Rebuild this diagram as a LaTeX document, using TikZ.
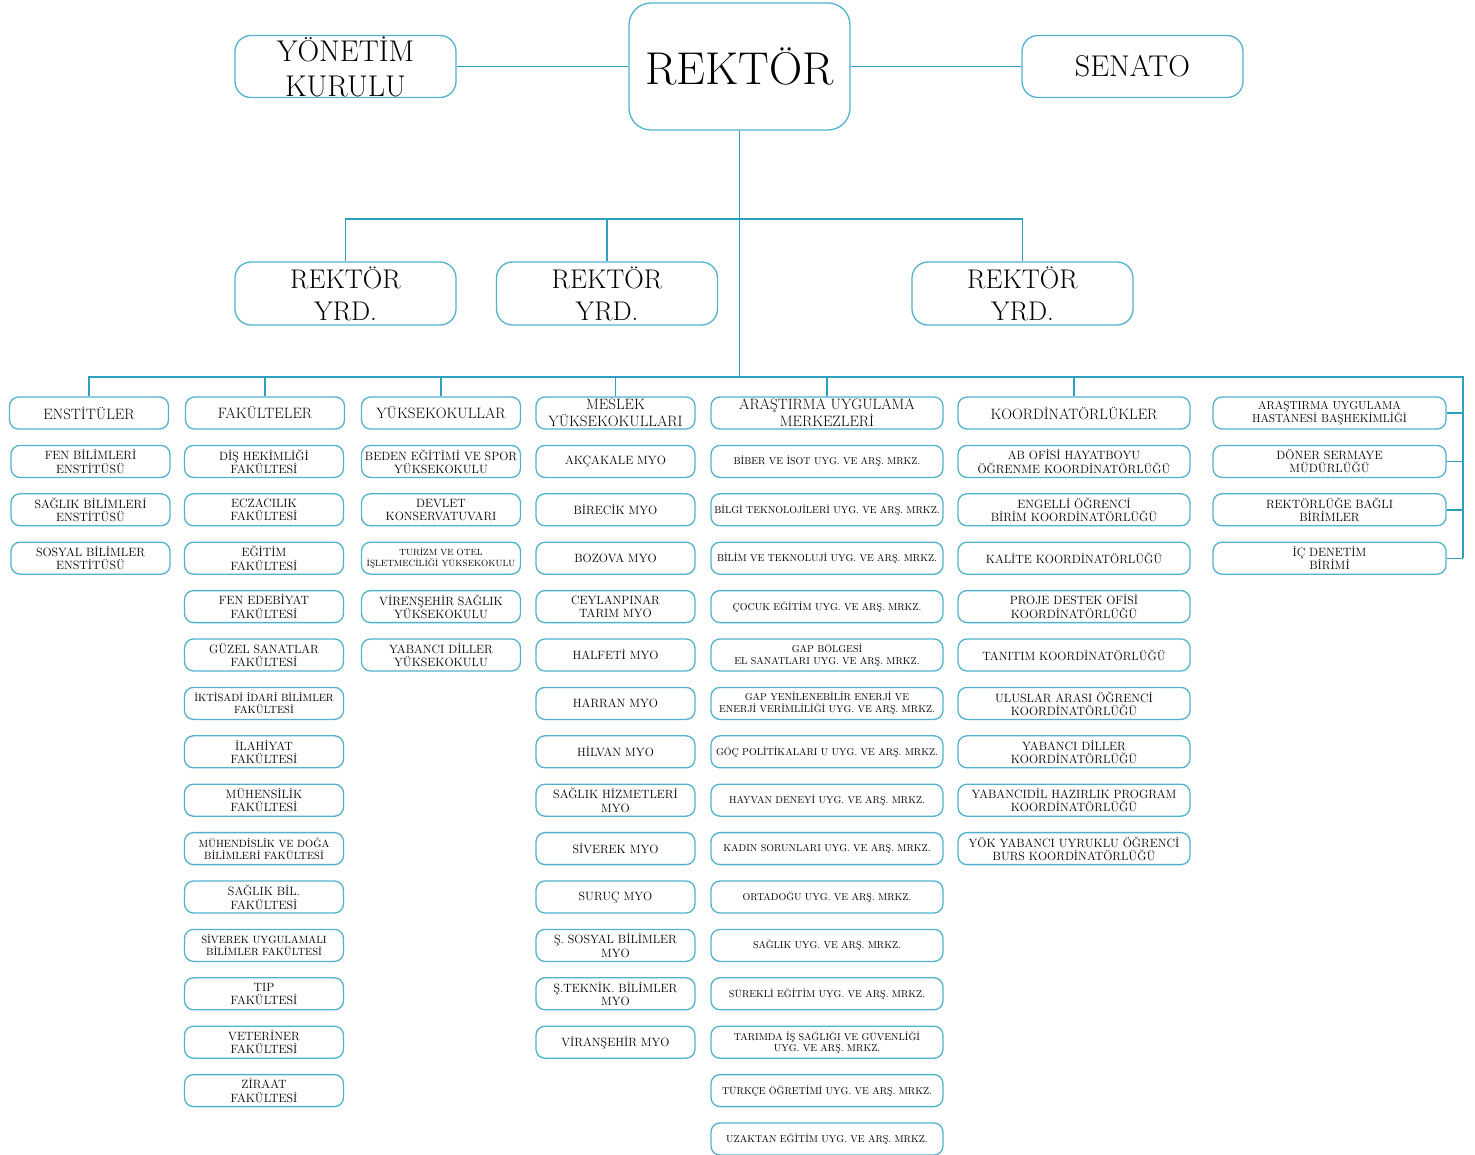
\documentclass[tikz,border=0pt]{standalone}
\usepackage{fontspec}

\definecolor{orgline}{RGB}{44,160,190}
\definecolor{orgbox}{RGB}{82,178,206}
\newcommand{\orgfont}[2]{\fontsize{#1}{#2}\selectfont}

\tikzset{
  unit/.style={draw=orgbox, line width=1.3pt, rounded corners=9pt, fill=white,
    align=center, inner sep=0pt, minimum height=32pt, minimum width=159pt,
    font=\orgfont{12}{13.5}},
  smallunit/.style={unit, font=\orgfont{10.5}{12}},
  wideunit/.style={unit, minimum width=232pt},
  armunit/.style={wideunit, font=\orgfont{10}{11.5}},
  head/.style={unit, font=\orgfont{15}{17}},
  top/.style={unit, rounded corners=16pt, minimum width=221pt, minimum height=62pt},
  link/.style={draw=orgline, line width=1.4pt},
}

\begin{document}
\begin{tikzpicture}[x=1pt,y=-1pt]
\useasboundingbox (0,0) rectangle (1475,1155);

% top level
\node[top, minimum height=127pt, rounded corners=22pt, font=\orgfont{46}{50}] (rektor) at (739.5,66.5) {REKTÖR};
\node[top, label={[font=\orgfont{30}{35}, align=center]center:YÖNETİM\\KURULU}] (yk) at (345.5,66.5) {};
\node[top, font=\orgfont{30}{34}] (senato) at (1132.5,66.5) {SENATO};

\node[top, minimum height=63pt, label={[font=\orgfont{27}{32}, align=center]center:REKTÖR\\YRD.}] (yrda) at (345.5,293.5) {};
\node[top, minimum height=63pt, label={[font=\orgfont{27}{32}, align=center]center:REKTÖR\\YRD.}] (yrdb) at (607,293.5) {};
\node[top, minimum height=63pt, label={[font=\orgfont{27}{32}, align=center]center:REKTÖR\\YRD.}] (yrdc) at (1022.5,293.5) {};

% unit headers
\node[head] (ens) at (89,413) {ENSTİTÜLER};
\node[head] (fak) at (265,413) {FAKÜLTELER};
\node[head] (yo) at (441,413) {YÜKSEKOKULLAR};
\node[head] (myo) at (615.5,413) {MESLEK\\YÜKSEKOKULLARI};
\node[head, minimum width=232pt] (arm) at (827,413) {ARAŞTIRMA UYGULAMA\\MERKEZLERİ};
\node[head, minimum width=232pt] (koo) at (1074,413) {KOORDİNATÖRLÜKLER};

% units, row by row
\foreach \r/\t in {1/{FEN BİLİMLERİ\\ENSTİTÜSÜ}, 2/{SAĞLIK BİLİMLERİ\\ENSTİTÜSÜ},
    3/{SOSYAL BİLİMLER\\ENSTİTÜSÜ}}
  \node[unit] (ens\r) at (90.5,{413+48.4*\r}) {\t};

\foreach \r/\t in {1/{DİŞ HEKİMLİĞİ\\FAKÜLTESİ}, 2/{ECZACILIK\\FAKÜLTESİ},
    3/{EĞİTİM\\FAKÜLTESİ}, 4/{FEN EDEBİYAT\\FAKÜLTESİ}, 5/{GÜZEL SANATLAR\\FAKÜLTESİ},
    7/{İLAHİYAT\\FAKÜLTESİ}, 8/{MÜHENSİLİK\\FAKÜLTESİ}, 10/{SAĞLIK BİL.\\FAKÜLTESİ},
    12/{TIP\\FAKÜLTESİ}, 13/{VETERİNER\\FAKÜLTESİ}, 14/{ZİRAAT\\FAKÜLTESİ}}
  \node[unit] (fak\r) at (264,{413+48.4*\r}) {\t};
\node[smallunit] (fak6) at (264,{413+48.4*6}) {İKTİSADİ İDARİ BİLİMLER\\FAKÜLTESİ};
\node[smallunit] (fak9) at (264,{413+48.4*9}) {MÜHENDİSLİK VE DOĞA\\BİLİMLERİ FAKÜLTESİ};
\node[smallunit] (fak11) at (264,{413+48.4*11}) {SİVEREK UYGULAMALI\\BİLİMLER FAKÜLTESİ};

\foreach \r/\t in {1/{BEDEN EĞİTİMİ VE SPOR\\YÜKSEKOKULU}, 2/{DEVLET\\KONSERVATUVARI},
    4/{VİRENŞEHİR SAĞLIK\\YÜKSEKOKULU}, 5/{YABANCI DİLLER\\YÜKSEKOKULU}}
  \node[unit] (yo\r) at (441,{413+48.4*\r}) {\t};
\node[unit, font=\orgfont{9}{10.5}] (yo3) at (441,{413+48.4*3}) {TURİZM VE OTEL\\İŞLETMECİLİĞİ YÜKSEKOKULU};

\foreach \t [count=\r] in {{AKÇAKALE MYO}, {BİRECİK MYO}, {BOZOVA MYO},
    {CEYLANPINAR\\TARIM MYO}, {HALFETİ MYO}, {HARRAN MYO}, {HİLVAN MYO},
    {SAĞLIK HİZMETLERİ\\MYO}, {SİVEREK MYO}, {SURUÇ MYO}, {Ş. SOSYAL BİLİMLER\\MYO},
    {Ş.TEKNİK. BİLİMLER\\MYO}, {VİRANŞEHİR MYO}}
  \node[unit] (myo\r) at (615.5,{413+48.4*\r}) {\t};

\foreach \t [count=\r] in {{BİBER VE İSOT UYG. VE ARŞ. MRKZ.},
    {BİLGİ TEKNOLOJİLERİ UYG. VE ARŞ. MRKZ.}, {BİLİM VE TEKNOLUJİ UYG. VE ARŞ. MRKZ.},
    {ÇOCUK EĞİTİM UYG. VE ARŞ. MRKZ.}, {GAP BÖLGESİ\\EL SANATLARI UYG. VE ARŞ. MRKZ.},
    {GAP YENİLENEBİLİR ENERJİ VE\\ENERJİ VERİMLİLİĞİ UYG. VE ARŞ. MRKZ.},
    {GÖÇ POLİTİKALARI U UYG. VE ARŞ. MRKZ.}, {HAYVAN DENEYİ UYG. VE ARŞ. MRKZ.},
    {KADIN SORUNLARI UYG. VE ARŞ. MRKZ.}, {ORTADOĞU UYG. VE ARŞ. MRKZ.},
    {SAĞLIK UYG. VE ARŞ. MRKZ.}, {SÜREKLİ EĞİTİM UYG. VE ARŞ. MRKZ.},
    {TARIMDA İŞ SAĞLIĞI VE GÜVENLİĞİ\\UYG. VE ARŞ. MRKZ.},
    {TÜRKÇE ÖĞRETİMİ UYG. VE ARŞ. MRKZ.}, {UZAKTAN EĞİTİM UYG. VE ARŞ. MRKZ.}}
  \node[armunit] (arm\r) at (827,{413+48.4*\r}) {\t};

\foreach \t [count=\r] in {{AB OFİSİ HAYATBOYU\\ÖĞRENME KOORDİNATÖRLÜĞÜ},
    {ENGELLİ ÖĞRENCİ\\BİRİM KOORDİNATÖRLÜĞÜ}, {KALİTE KOORDİNATÖRLÜĞÜ},
    {PROJE DESTEK OFİSİ\\KOORDİNATÖRLÜĞÜ}, {TANITIM KOORDİNATÖRLÜĞÜ},
    {ULUSLAR ARASI ÖĞRENCİ\\KOORDİNATÖRLÜĞÜ}, {YABANCI DİLLER\\KOORDİNATÖRLÜĞÜ},
    {YABANCIDİL HAZIRLIK PROGRAM\\KOORDİNATÖRLÜĞÜ},
    {YÖK YABANCI UYRUKLU ÖĞRENCİ\\BURS KOORDİNATÖRLÜĞÜ}}
  \node[wideunit] (koo\r) at (1074,{413+48.4*\r}) {\t};

% units bound to the rector
\node[wideunit, minimum width=233pt, font=\orgfont{11.5}{13}] (bir1) at (1329.5,413) {ARAŞTIRMA UYGULAMA\\HASTANESİ BAŞHEKİMLİĞİ};
\foreach \r/\t in {2/{DÖNER SERMAYE\\MÜDÜRLÜĞÜ}, 3/{REKTÖRLÜĞE BAĞLI\\BİRİMLER},
    4/{İÇ DENETİM\\BİRİMİ}}
  \node[wideunit, minimum width=233pt] (bir\r) at (1329.5,{413+48.4*(\r-1)}) {\t};

% connectors
\coordinate (bustop) at (0,219);
\coordinate (busbot) at (0,377);
\coordinate (busr) at (1463,0);

\draw[link] (yk) -- (rektor);
\draw[link] (rektor) -- (senato);
\draw[link] (rektor.south) -- (rektor.south |- busbot);
\draw[link] (yrda.north) -- (yrda.north |- bustop) -- (yrdc.north |- bustop) -- (yrdc.north);
\draw[link] (yrdb.north) -- (yrdb.north |- bustop);
\draw[link] (ens.north) -- (ens.north |- busbot) -- (busbot -| busr) -- (busr |- bir4);
\foreach \h in {fak,yo,myo,arm,koo}
  \draw[link] (\h.north) -- (\h.north |- busbot);
\foreach \i in {1,...,4}
  \draw[link] (bir\i.east) -- (bir\i.east -| busr);
\end{tikzpicture}
\end{document}
